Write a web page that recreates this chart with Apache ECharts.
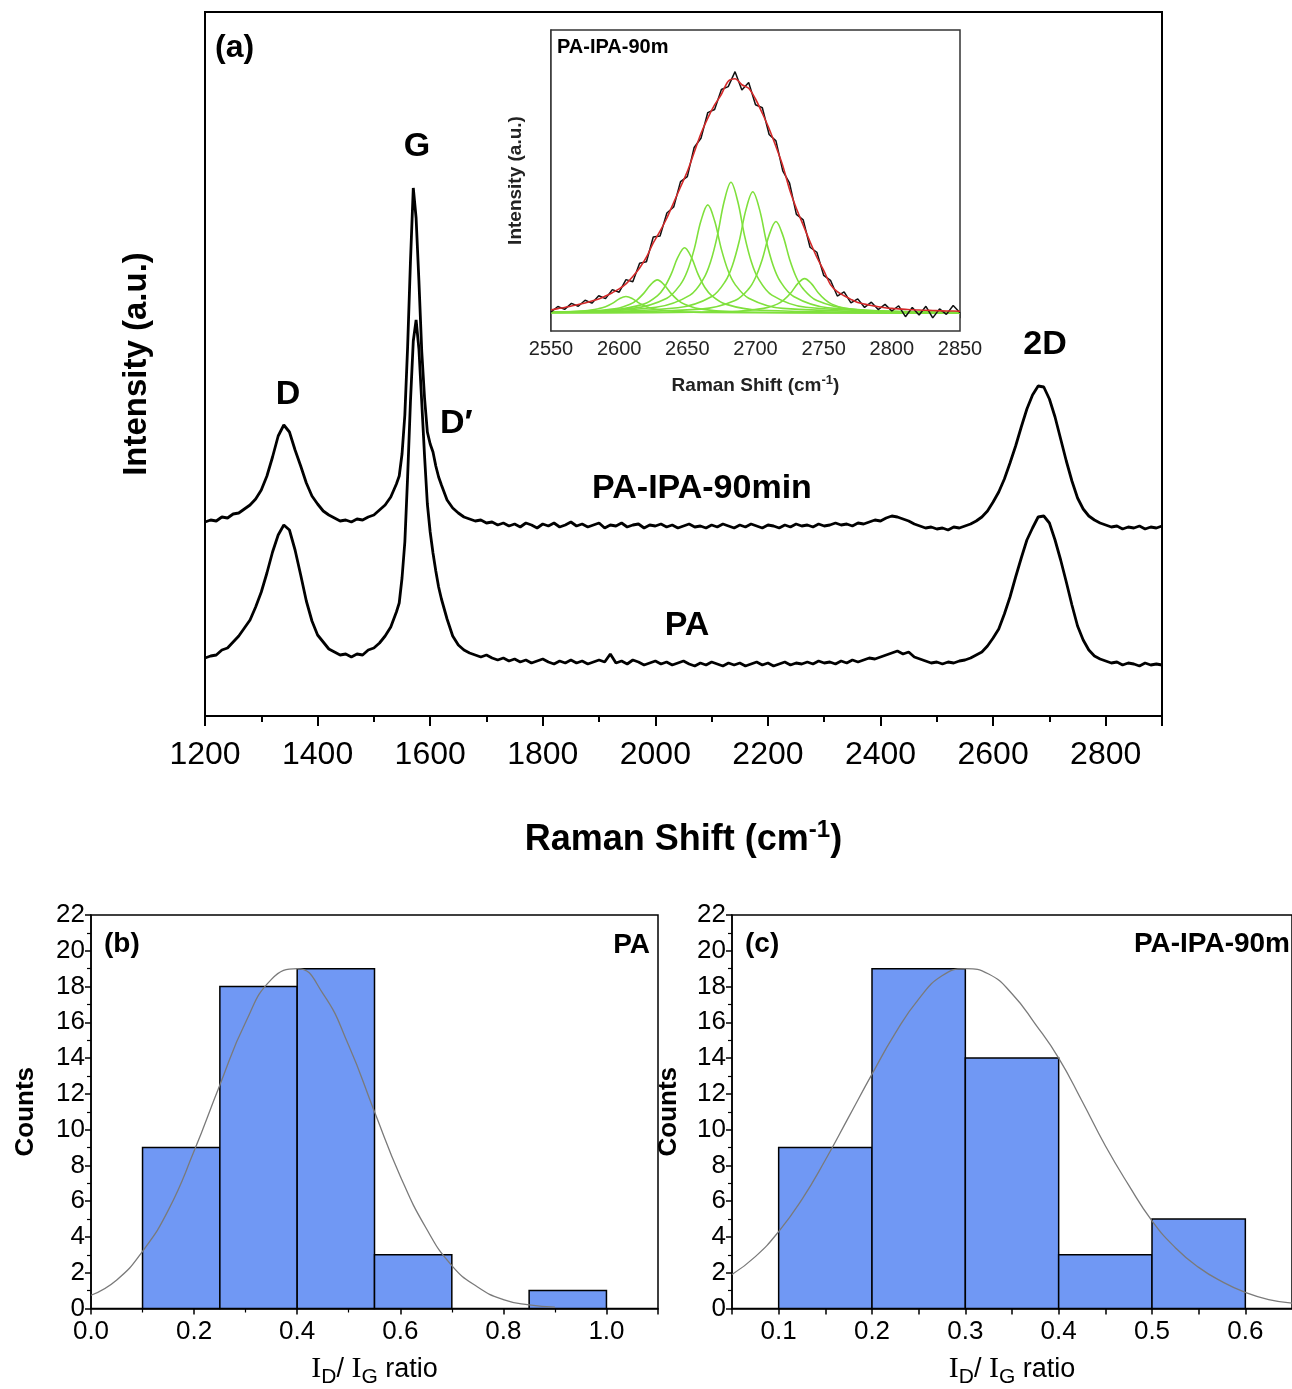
<!DOCTYPE html>
<html>
<head>
<meta charset="utf-8">
<script src="https://cdn.jsdelivr.net/npm/echarts@6/dist/echarts.min.js"></script>
<style>
  html, body { margin: 0; padding: 0; background: #fff; }
  #chart { width: 1292px; height: 1389px; }
</style>
</head>
<body>
<div id="chart"></div>
<script>
// ---- (a) Raman spectra, intensity in a.u. ----
const shift = []
for (let s = 1200; s <= 1540; s += 10) shift.push(s)
for (let s = 1545; s <= 1620; s += 5) shift.push(s)
for (let s = 1630; s <= 2900; s += 10) shift.push(s)

const ipa90 = [
  194, 196, 195, 199, 198, 202, 203, 207, 211, 217,
  226, 240, 259, 280, 291, 284, 266, 250, 233, 220,
  212, 205, 201, 198, 195, 196, 194, 197, 196, 199,
  201, 206, 211, 219, 232,
  240, 262, 301, 370, 455, 528, 498, 435, 365, 318, 284, 272, 264, 250, 239, 231,
  216, 208, 203, 199, 197, 195, 196, 193,
  194, 191, 193, 190, 192, 189, 193, 191, 188, 192,
  190, 193, 189, 191, 194, 190, 192, 189, 191, 193,
  188, 191, 190, 193, 189, 191, 192, 188, 191, 190,
  192, 189, 191, 188, 190, 192, 189, 190, 188, 191,
  189, 192, 190, 188, 191, 189, 192, 190, 188, 191,
  190, 188, 191, 189, 192, 190, 191, 189, 192, 190,
  191, 193, 191, 192, 190, 193, 192, 194, 196, 195,
  198, 200, 199, 197, 195, 192, 190, 188, 189, 187,
  188, 186, 189, 188, 190, 192, 195, 199, 205, 214,
  224, 237, 253, 270, 289, 307, 321, 330, 329, 317,
  299, 277, 255, 235, 218, 207, 200, 196, 193, 191,
  189, 190, 187, 189, 188, 190, 187, 189, 188, 190
]
const pa = [
  58, 60, 61, 66, 68, 74, 80, 88, 96, 109,
  124, 143, 164, 181, 191, 186, 166, 141, 115, 95,
  81, 74, 67, 64, 61, 62, 59, 62, 61, 66,
  68, 73, 80, 89, 104,
  113, 138, 174, 240, 315, 375, 396, 367, 314, 260, 212, 184, 163, 145, 129, 117,
  97, 80, 71, 66, 63, 61, 59, 61,
  58, 56, 58, 55, 57, 54, 56, 53, 55, 57,
  54, 52, 55, 53, 56, 53, 55, 52, 54, 56,
  54, 62, 53, 55, 52, 56, 54, 51, 53, 55,
  52, 54, 51, 53, 55, 52, 50, 53, 51, 54,
  52, 50, 53, 51, 53, 50, 52, 54, 51, 53,
  50, 52, 54, 51, 53, 52, 54, 52, 55, 53,
  54, 52, 55, 53, 56, 54, 56, 58, 57, 59,
  61, 63, 65, 62, 64, 59, 57, 55, 53, 54,
  52, 54, 53, 55, 56, 58, 61, 64, 70, 78,
  87, 102, 119, 139, 158, 176, 188, 199, 200, 193,
  176, 156, 134, 111, 90, 76, 66, 60, 57, 55,
  53, 54, 51, 53, 52, 50, 53, 51, 52, 51
]
const shiftTicks = [1200, 1400, 1600, 1800, 2000, 2200, 2400, 2600, 2800]

// ---- inset: 2D band of PA-IPA-90m with fit ----
const insetShift = []
for (let s = 2550; s <= 2850; s += 5) insetShift.push(s)
const insetRaw = [
  0.5, 2.8, 1.6, 4.1, 2.9, 5.4, 4.2, 7.3, 6.1, 9.9,
  8.8, 14.1, 13.2, 21.0, 21.6, 32.0, 32.4, 42.1, 44.6, 55.3,
  57.4, 69.6, 73.5, 84.3, 85.6, 94.0, 95.2, 101.5, 93.8, 96.9,
  87.6, 86.3, 75.1, 72.4, 59.8, 54.6, 41.5, 39.2, 27.7, 25.6,
  15.9, 13.8, 7.2, 8.9, 4.3, 6.0, 2.4, 4.6, 1.5, 3.7,
  0.9, 3.1, -1.5, 2.4, -0.8, 2.9, -2.0, 1.8, -0.5, 3.2, 0.2
]
const insetFit = [
  1.3, 1.9, 2.4, 3.0, 3.6, 4.3, 5.1, 6.0, 7.2, 8.6,
  10.2, 12.3, 15.4, 19.0, 23.5, 29.5, 34.5, 40.0, 46.5, 53.0,
  59.5, 67.5, 75.5, 82.0, 87.5, 92.0, 97.5, 98.5, 96.0, 94.5,
  90.0, 84.0, 77.5, 70.0, 62.0, 52.0, 44.0, 37.0, 30.0, 23.5,
  18.0, 12.0, 9.0, 7.3, 5.8, 4.5, 3.8, 3.2, 2.7, 2.3,
  2.0, 1.8, 1.6, 1.4, 1.3, 1.2, 1.1, 1.0, 0.9, 0.9, 0.8
]
// fitted components [shift, intensity]
const comp1 = [[2550, 0.3], [2575, 1.0], [2585, 1.9], [2590, 2.7], [2595, 4.1], [2600, 6.0], [2605, 7.0], [2610, 6.0], [2615, 4.1], [2620, 2.7], [2625, 1.9], [2635, 1.0], [2660, 0.3], [2850, 0]]
const comp2 = [[2550, 0.3], [2573, 0.6], [2598, 1.9], [2608, 3.7], [2613, 5.5], [2618, 8.3], [2623, 11.9], [2628, 14], [2633, 11.9], [2638, 8.3], [2643, 5.5], [2648, 3.7], [2658, 1.9], [2683, 0.6], [2850, 0.1]]
const comp3 = [[2550, 0.4], [2593, 1.2], [2618, 3.8], [2628, 7.3], [2633, 10.7], [2638, 16.2], [2643, 23.4], [2648, 27.5], [2653, 23.4], [2658, 16.2], [2663, 10.7], [2668, 7.3], [2678, 3.8], [2703, 1.2], [2850, 0.1]]
const comp4 = [[2550, 0.5], [2610, 2.0], [2635, 6.3], [2645, 12.1], [2650, 17.7], [2655, 26.8], [2660, 38.8], [2665, 45.5], [2670, 38.8], [2675, 26.8], [2680, 17.7], [2685, 12.1], [2695, 6.3], [2720, 2.0], [2850, 0.2]]
const comp5 = [[2550, 0.5], [2627, 2.5], [2652, 7.6], [2662, 14.6], [2667, 21.5], [2672, 32.5], [2677, 46.9], [2682, 55], [2687, 46.9], [2692, 32.5], [2697, 21.5], [2702, 14.6], [2712, 7.6], [2737, 2.5], [2850, 0.3]]
const comp6 = [[2550, 0.4], [2643, 2.3], [2668, 7.0], [2678, 13.5], [2683, 19.9], [2688, 30.1], [2693, 43.5], [2698, 51], [2703, 43.5], [2708, 30.1], [2713, 19.9], [2718, 13.5], [2728, 7.0], [2753, 2.3], [2850, 0.4]]
const comp7 = [[2550, 0.3], [2660, 1.7], [2685, 5.3], [2695, 10.2], [2700, 15.0], [2705, 22.7], [2710, 32.8], [2715, 38.5], [2720, 32.8], [2725, 22.7], [2730, 15.0], [2735, 10.2], [2745, 5.3], [2770, 1.7], [2850, 0.3]]
const comp8 = [[2550, 0.1], [2681, 0.65], [2706, 2.0], [2716, 3.8], [2721, 5.7], [2726, 8.6], [2731, 12.4], [2736, 14.5], [2741, 12.4], [2746, 8.6], [2751, 5.7], [2756, 3.8], [2766, 2.0], [2791, 0.65], [2850, 0.2]]
const components = [comp1, comp2, comp3, comp4, comp5, comp6, comp7, comp8]

// ---- (b) PA and (c) PA-IPA-90m ID/IG histograms ----
const binLoB = [0.1, 0.25, 0.4, 0.55, 0.85]
const binHiB = [0.25, 0.4, 0.55, 0.7, 1.0]
const countB = [9, 18, 19, 3, 1]
const fitXB = [0, 0.05, 0.1, 0.15, 0.2, 0.25, 0.3, 0.35, 0.4, 0.45, 0.5, 0.55, 0.6, 0.65, 0.7, 0.75, 0.8, 0.85, 0.9]
const fitYB = [0.74, 1.6, 3.2, 5.5, 8.8, 12.5, 16.0, 18.4, 19.0, 17.6, 14.7, 11.0, 7.4, 4.5, 2.4, 1.2, 0.5, 0.2, 0.07]

const binLoC = [0.1, 0.2, 0.3, 0.4, 0.5]
const binHiC = [0.2, 0.3, 0.4, 0.5, 0.6]
const countC = [9, 19, 14, 3, 5]
const fitXC = [0.05, 0.075, 0.1, 0.125, 0.15, 0.175, 0.2, 0.225, 0.25, 0.275, 0.3, 0.325, 0.35, 0.375, 0.4, 0.425, 0.45, 0.475, 0.5, 0.525, 0.55, 0.575, 0.6, 0.625, 0.65]
const fitYC = [1.9, 2.9, 4.3, 6.1, 8.3, 10.7, 13.1, 15.4, 17.3, 18.6, 19.0, 18.7, 17.6, 15.9, 14.0, 11.6, 9.1, 6.9, 4.9, 3.4, 2.3, 1.5, 0.9, 0.5, 0.3]

const SANS = '"Liberation Sans", Arial, sans-serif'
const NARROW = '"Liberation Sans Narrow", "Arial Narrow", "Liberation Sans", sans-serif'
const SERIF = '"Liberation Serif", "Times New Roman", serif'
const BAR = '#7098f4'

const zip = (xs, ys) => xs.map((x, i) => [x, ys[i]])

const chart = echarts.init(document.getElementById('chart'), null, { renderer: 'canvas' })

const renderBin = (params, api) => {
  const lo = api.coord([api.value(0), api.value(2)])
  const hi = api.coord([api.value(1), 0])
  return {
    type: 'rect',
    shape: { x: lo[0], y: lo[1], width: hi[0] - lo[0], height: hi[1] - lo[1] },
    style: { fill: BAR, stroke: '#000', lineWidth: 1.5 }
  }
}

const ratioName = '{i|I}{sub|D}{t|/ }{i|I}{sub|G}{t| ratio}'
const ratioStyle = {
  color: '#000',
  rich: {
    i: { fontFamily: SERIF, fontSize: 30, color: '#000', lineHeight: 30 },
    sub: { fontFamily: SANS, fontSize: 21, color: '#000', padding: [16, 0, 0, 0], lineHeight: 21 },
    t: { fontFamily: SANS, fontSize: 27, color: '#000', lineHeight: 30 }
  }
}

const histX = (grid, min, max, interval, split) => ({
  gridIndex: grid,
  type: 'value',
  min, max, interval,
  axisLine: { show: true, onZero: false, lineStyle: { color: '#000', width: 1.5 } },
  axisTick: { show: true, length: 6, lineStyle: { color: '#000', width: 1.5 } },
  minorTick: { show: split > 0, splitNumber: split || 1, length: 4, lineStyle: { color: '#000', width: 1.2 } },
  splitLine: { show: false },
  axisLabel: {
    color: '#000', fontFamily: NARROW, fontSize: 26, margin: 10, showMaxLabel: false,
    formatter: (v) => (Math.abs(v * 10 - Math.round(v * 10)) < 1e-6 ? v.toFixed(1) : '')
  },
  name: ratioName,
  nameLocation: 'middle',
  nameGap: 46,
  nameTextStyle: ratioStyle
})

const histY = (grid, gap) => ({
  gridIndex: grid,
  type: 'value',
  min: 0, max: 22, interval: 2,
  axisLine: { show: true, lineStyle: { color: '#000', width: 1.5 } },
  axisTick: { show: true, length: 6, lineStyle: { color: '#000', width: 1.5 } },
  minorTick: { show: true, splitNumber: 2, length: 4, lineStyle: { color: '#000', width: 1.2 } },
  splitLine: { show: false },
  axisLabel: { color: '#000', fontFamily: NARROW, fontSize: 26, margin: 6 },
  name: 'Counts',
  nameLocation: 'middle',
  nameGap: gap,
  nameTextStyle: { color: '#000', fontFamily: SANS, fontWeight: 'bold', fontSize: 26 }
})

const txt = (x, y, text, size, align) => ({
  type: 'text', x, y, z: 100,
  style: {
    text, fill: '#000', font: 'bold ' + size + 'px ' + SANS,
    align: align || 'center', verticalAlign: 'middle'
  }
})

chart.setOption({
  animation: false,
  backgroundColor: '#fff',
  grid: [
    { left: 205, top: 12, width: 957, height: 704, show: true, borderColor: '#000', borderWidth: 2 },
    { left: 551, top: 30, width: 409, height: 301, show: true, backgroundColor: '#fff', borderColor: '#333', borderWidth: 1.5, z: 5 },
    { left: 91, top: 915, width: 567, height: 398, show: true, borderColor: '#000', borderWidth: 1.5 },
    { left: 732, top: 915, width: 563, height: 398, show: true, borderColor: '#000', borderWidth: 1.5 }
  ],
  xAxis: [
    {
      gridIndex: 0, type: 'value', min: 1200, max: 2900, interval: 200,
      axisLine: { show: true, lineStyle: { color: '#000', width: 2 } },
      axisTick: { show: true, length: 10, lineStyle: { color: '#000', width: 2 } },
      minorTick: { show: true, splitNumber: 2, length: 6, lineStyle: { color: '#000', width: 2 } },
      splitLine: { show: false },
      axisLabel: {
        color: '#000', fontFamily: NARROW, fontSize: 32, margin: 23, showMaxLabel: false,
        formatter: (v) => (shiftTicks.includes(v) ? String(v) : '')
      },
      name: 'Raman Shift (cm{sup|-1})',
      nameLocation: 'middle',
      nameGap: 102,
      nameTextStyle: {
        color: '#000', fontFamily: NARROW, fontWeight: 'bold', fontSize: 36,
        rich: { sup: { fontFamily: NARROW, fontWeight: 'bold', fontSize: 24, color: '#000', padding: [0, 0, 20, 0] } }
      }
    },
    {
      gridIndex: 1, type: 'value', min: 2550, max: 2850, interval: 50,
      axisLine: { show: true, lineStyle: { color: '#333', width: 1.5 } },
      axisTick: { show: true, length: 5, lineStyle: { color: '#333', width: 1.5 } },
      minorTick: { show: true, splitNumber: 2, length: 3, lineStyle: { color: '#333', width: 1.2 } },
      splitLine: { show: false },
      axisLabel: { color: '#222', fontFamily: SANS, fontSize: 20, margin: 8, formatter: (v) => String(v) },
      name: 'Raman Shift (cm{sup|-1})',
      nameLocation: 'middle',
      nameGap: 43,
      nameTextStyle: {
        color: '#222', fontFamily: SANS, fontWeight: 'bold', fontSize: 19,
        rich: { sup: { fontFamily: SANS, fontWeight: 'bold', fontSize: 13, color: '#222', padding: [0, 0, 10, 0] } }
      }
    },
    histX(2, 0, 1.1, 0.2, 2),
    histX(3, 0.05, 0.65, 0.05, 0)
  ],
  yAxis: [
    {
      gridIndex: 0, type: 'value', min: 0, max: 704,
      axisLine: { show: true, lineStyle: { color: '#000', width: 2 } },
      axisTick: { show: false }, axisLabel: { show: false }, splitLine: { show: false },
      name: 'Intensity (a.u.)',
      nameLocation: 'middle',
      nameGap: 52,
      nameTextStyle: { color: '#000', fontFamily: SANS, fontWeight: 'bold', fontSize: 33 }
    },
    {
      gridIndex: 1, type: 'value', min: -7.5, max: 119,
      axisLine: { show: true, lineStyle: { color: '#333', width: 1.5 } },
      axisTick: { show: false }, axisLabel: { show: false }, splitLine: { show: false },
      name: 'Intensity (a.u.)',
      nameLocation: 'middle',
      nameGap: 26,
      nameTextStyle: { color: '#222', fontFamily: SANS, fontWeight: 'bold', fontSize: 19 }
    },
    histY(2, 52),
    histY(3, 50)
  ],
  series: [
    {
      type: 'line', xAxisIndex: 0, yAxisIndex: 0, showSymbol: false,
      data: zip(shift, ipa90), lineStyle: { color: '#000', width: 2.8 }
    },
    {
      type: 'line', xAxisIndex: 0, yAxisIndex: 0, showSymbol: false,
      data: zip(shift, pa), lineStyle: { color: '#000', width: 2.8 }
    },
    ...components.map((c) => ({
      type: 'line', xAxisIndex: 1, yAxisIndex: 1, showSymbol: false, smooth: 0.35, z: 6,
      data: c, lineStyle: { color: '#7fe03c', width: 1.6 }
    })),
    {
      type: 'line', xAxisIndex: 1, yAxisIndex: 1, showSymbol: false, z: 7,
      data: zip(insetShift, insetRaw), lineStyle: { color: '#111', width: 1.5 }
    },
    {
      type: 'line', xAxisIndex: 1, yAxisIndex: 1, showSymbol: false, smooth: 0.3, z: 8,
      data: zip(insetShift, insetFit), lineStyle: { color: '#d42a2a', width: 1.6 }
    },
    {
      type: 'custom', xAxisIndex: 2, yAxisIndex: 2, renderItem: renderBin,
      encode: { x: [0, 1], y: 2 },
      data: binLoB.map((lo, i) => [lo, binHiB[i], countB[i]])
    },
    {
      type: 'line', xAxisIndex: 2, yAxisIndex: 2, showSymbol: false, smooth: true, z: 5,
      data: zip(fitXB, fitYB), lineStyle: { color: '#7a7a7a', width: 1.3 }
    },
    {
      type: 'custom', xAxisIndex: 3, yAxisIndex: 3, renderItem: renderBin,
      encode: { x: [0, 1], y: 2 },
      data: binLoC.map((lo, i) => [lo, binHiC[i], countC[i]])
    },
    {
      type: 'line', xAxisIndex: 3, yAxisIndex: 3, showSymbol: false, smooth: true, z: 5,
      data: zip(fitXC, fitYC), lineStyle: { color: '#7a7a7a', width: 1.3 }
    }
  ],
  graphic: [
    txt(215, 48, '(a)', 32, 'left'),
    txt(417, 147, 'G', 34),
    txt(288, 395, 'D', 34),
    txt(440, 424, 'D\u2032', 34, 'left'),
    txt(1045, 345, '2D', 34),
    txt(702, 489, 'PA-IPA-90min', 34),
    txt(687, 626, 'PA', 34),
    txt(557, 47, 'PA-IPA-90m', 20, 'left'),
    txt(104, 944, '(b)', 28, 'left'),
    txt(650, 945, 'PA', 28, 'right'),
    txt(745, 944, '(c)', 28, 'left'),
    txt(1290, 944, 'PA-IPA-90m', 28, 'right')
  ]
})

window.addEventListener('resize', () => chart.resize())
</script>
</body>
</html>
